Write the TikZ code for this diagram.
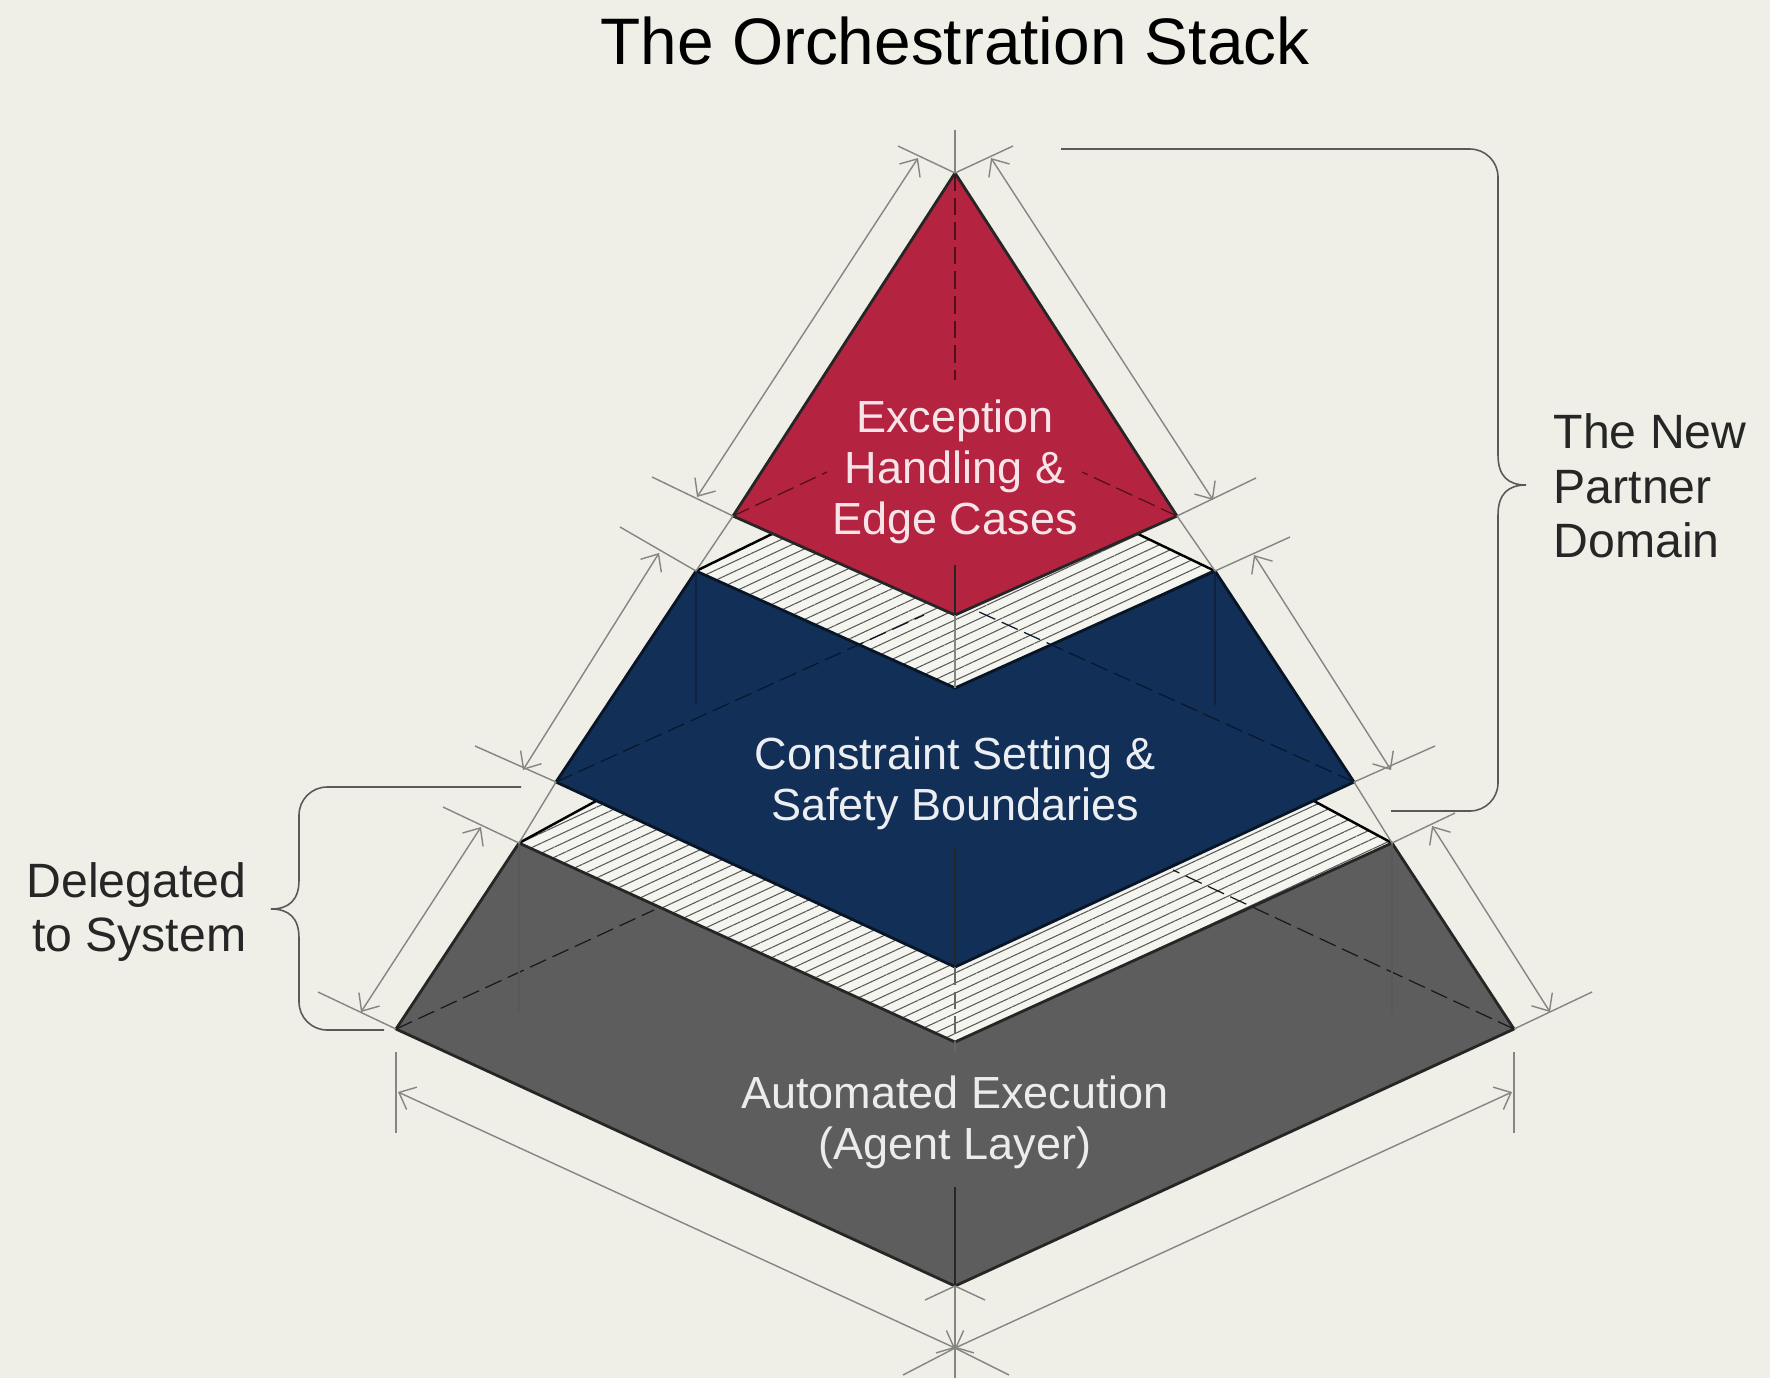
\documentclass[tikz,border=0pt]{standalone}
\usepackage{fontspec}
\setmainfont{Liberation Sans}
\usetikzlibrary{arrows.meta,patterns.meta}
\definecolor{paper}{HTML}{EFEFE8}
\definecolor{hatchpaper}{HTML}{F5F5F0}
\definecolor{crimson}{HTML}{B4233F}
\definecolor{navy}{HTML}{112F57}
\definecolor{slate}{HTML}{5C5D5C}
\definecolor{dimgrey}{HTML}{858682}
\tikzset{
  layer/.style={draw=black!85,line width=.8pt,line join=round,fill=#1},
  hatched/.style={pattern={Lines[angle=25,distance=2.6pt,line width=.3pt]},pattern color=black!65},
  dimline/.style={draw=dimgrey,line width=.4pt},
  dimarrow/.style={dimline,{Straight Barb[length=4pt,width=7pt]}-{Straight Barb[length=4pt,width=7pt]}},
  hidden/.style={draw=black!90,line width=.35pt,dash pattern=on 5pt off 2pt},
  brace/.style={draw=black!65,line width=.45pt,rounded corners=8pt},
  layertext/.style={align=center,font=\fontsize{12.8}{14.5}\selectfont},
  sidetext/.style={font=\fontsize{13.7}{15.5}\selectfont,text=black!85}
}
\begin{document}
\begin{tikzpicture}[x=.01cm,y=-.01cm]
      \useasboundingbox (0,0) rectangle (1770,1378);
      \fill[paper] (0,0) rectangle (1770,1378);
      \path
        (955,173) coordinate (redtop)
        (733,516) coordinate (redleft)
        (1177,516) coordinate (redright)
        (955,615) coordinate (redbottom)
        (696,571) coordinate (navytl)
        (955,688) coordinate (navynotch)
        (1215,571) coordinate (navytr)
        (1354,782) coordinate (navyright)
        (955,967) coordinate (navybottom)
        (556,782) coordinate (navyleft)
        (519,843) coordinate (greytl)
        (955,1042) coordinate (greynotch)
        (1392,843) coordinate (greytr)
        (1514,1029) coordinate (greyright)
        (955,1286) coordinate (greybottom)
        (396,1029) coordinate (greyleft)
        (772,534) coordinate (hatchupl)
        (1138,534) coordinate (hatchupr)
        (596,801) coordinate (hatchlowl)
        (1314,801) coordinate (hatchlowr);
      \fill[hatchpaper] (navytl) -- (hatchupl) -- (redbottom) -- (hatchupr) -- (navytr) -- (navynotch) -- cycle;
      \fill[hatched] (navytl) -- (hatchupl) -- (redbottom) -- (hatchupr) -- (navytr) -- (navynotch) -- cycle;
      \fill[hatchpaper] (greytl) -- (hatchlowl) -- (navybottom) -- (hatchlowr) -- (greytr) -- (greynotch) -- cycle;
      \fill[hatched] (greytl) -- (hatchlowl) -- (navybottom) -- (hatchlowr) -- (greytr) -- (greynotch) -- cycle;
      \draw[black,line width=.7pt] (navytl) to (hatchupl);
      \draw[black,line width=.7pt] (hatchupr) to (navytr);
      \draw[black,line width=.7pt] (greytl) to (hatchlowl);
      \draw[black,line width=.7pt] (hatchlowr) to (greytr);
      \draw[layer=slate] (greytl) -- (greynotch) -- (greytr) -- (greyright) -- (greybottom) -- (greyleft) -- cycle;
      \draw[layer=navy,draw=black!55!navy] (navytl) -- (navynotch) -- (navytr) -- (navyright) -- (navybottom) -- (navyleft) -- cycle;
      \draw[layer=crimson] (redtop) -- (redright) -- (redbottom) -- (redleft) -- cycle;
      \path
        (955,130) coordinate (axistop)
        (955,380) coordinate (axisred)
        (955,565) coordinate (axisredlow)
        (955,847) coordinate (axisnavy)
        (955,1053) coordinate (axisgrey)
        (955,1187) coordinate (axisgreylow)
        (955,1378) coordinate (axisend)
        (827,472) coordinate (redhidl)
        (1082,472) coordinate (redhidr)
        (924,615) coordinate (navyhidl)
        (977,611) coordinate (navyhidr)
        (654,910) coordinate (greyhidl)
        (1173,870) coordinate (greyhidr)
        (696,705) coordinate (navydropl)
        (1215,705) coordinate (navydropr)
        (519,1013) coordinate (greydropl)
        (1392,1013) coordinate (greydropr);
      \begin{scope}[hidden]
        \draw[crimson!45!black] (redtop) to (axisred);
        \draw[crimson!45!black] (redleft) to (redhidl);
        \draw[crimson!45!black] (redright) to (redhidr);
        \draw[black!50!navy] (navyleft) to (navyhidl);
        \draw[black!50!navy] (navyright) to (navyhidr);
        \draw (greyleft) to (greyhidl);
        \draw (greyright) to (greyhidr);
        \draw[black!60] (navybottom) to (axisgrey);
      \end{scope}
      \begin{scope}[black!85,line width=.35pt]
        \draw (axisredlow) to (redbottom);
        \draw (axisnavy) to (navybottom);
        \draw (axisgreylow) to (greybottom);
        \draw[black!25!navy] (navytl) to (navydropl);
        \draw[black!25!navy] (navytr) to (navydropr);
        \draw[black!65] (greytl) to (greydropl);
        \draw[black!65] (greytr) to (greydropr);
      \end{scope}
      \path
        (898,146) coordinate (tickapexl)
        (1013,146) coordinate (tickapexr)
        (652,477) coordinate (tickredl)
        (1256,478) coordinate (tickredr)
        (620,527) coordinate (ticktll)
        (1290,537) coordinate (ticktrr)
        (475,746) coordinate (ticknavyl)
        (1435,746) coordinate (ticknavyr)
        (443,807) coordinate (tickgreytl)
        (1455,813) coordinate (tickgreytr)
        (318,992) coordinate (tickgreyl)
        (1592,992) coordinate (tickgreyr)
        (396,1052) coordinate (dropleft)
        (396,1133) coordinate (dropleftend)
        (1514,1052) coordinate (dropright)
        (1514,1133) coordinate (droprightend)
        (925,1300) coordinate (tickbotl)
        (985,1300) coordinate (tickbotr)
        (903,1375) coordinate (crossl)
        (1009,1375) coordinate (crossr)
        (955,1348) coordinate (crossmid)
        (398,1092) coordinate (arrowbotl)
        (1512,1092) coordinate (arrowbotr)
        (918,158) coordinate (arrowa)
        (697,497) coordinate (arrowb)
        (991,158) coordinate (arrowc)
        (1213,500) coordinate (arrowd)
        (659,553) coordinate (arrowe)
        (523,770) coordinate (arrowf)
        (1254,555) coordinate (arrowg)
        (1391,770) coordinate (arrowh)
        (481,827) coordinate (arrowi)
        (361,1012) coordinate (arrowj)
        (1432,826) coordinate (arrowk)
        (1550,1012) coordinate (arrowl);
      \begin{scope}[dimline]
        \draw (axistop) to (redtop);
        \draw (redbottom) to (navynotch);
        \draw (greybottom) to (axisend);
        \draw (redtop) to (tickapexl);
        \draw (redtop) to (tickapexr);
        \draw (redleft) to (tickredl);
        \draw (redright) to (tickredr);
        \draw (navytl) to (ticktll);
        \draw (navytr) to (ticktrr);
        \draw (navyleft) to (ticknavyl);
        \draw (navyright) to (ticknavyr);
        \draw (greytl) to (tickgreytl);
        \draw (greytr) to (tickgreytr);
        \draw (greyleft) to (tickgreyl);
        \draw (greyright) to (tickgreyr);
        \draw (redleft) to (navytl);
        \draw (redright) to (navytr);
        \draw (navyleft) to (greytl);
        \draw (navyright) to (greytr);
        \draw (dropleft) to (dropleftend);
        \draw (dropright) to (droprightend);
        \draw (greybottom) to (tickbotl);
        \draw (greybottom) to (tickbotr);
        \draw (crossmid) to (crossl);
        \draw (crossmid) to (crossr);
      \end{scope}
      \begin{scope}[dimarrow]
        \draw (arrowa) to (arrowb);
        \draw (arrowc) to (arrowd);
        \draw (arrowe) to (arrowf);
        \draw (arrowg) to (arrowh);
        \draw (arrowi) to (arrowj);
        \draw (arrowk) to (arrowl);
        \draw (arrowbotl) to (crossmid);
        \draw (arrowbotr) to (crossmid);
      \end{scope}
      \node (title) at (955,41) {\fontsize{18.7}{22}\selectfont The Orchestration Stack};
      \node[layertext,text=crimson!12!white] (exception) at (955,472) {Exception\\Handling \&\\Edge Cases};
      \node[layertext,text=navy!8!white] (constraint) at (955,783) {Constraint Setting \&\\Safety Boundaries};
      \node[layertext,text=slate!12!white] (automated) at (955,1122) {Automated Execution\\(Agent Layer)};
      \node[sidetext,align=left,anchor=west,inner sep=0pt] (partner) at (1553,486) {The New\\Partner\\Domain};
      \node[sidetext,align=right,anchor=east,inner sep=0pt] (delegated) at (247,912) {Delegated\\to System};
      \draw[brace] (1061,149) -- (1498,149) -- (1498,455);
      \draw[brace,rounded corners=0pt] (1498,455) .. controls (1498,476) and (1508,485) .. (1526,485) .. controls (1508,485) and (1498,494) .. (1498,515);
      \draw[brace] (1498,515) -- (1498,811) -- (1391,811);
      \draw[brace] (521,787) -- (299,787) -- (299,880);
      \draw[brace,rounded corners=0pt] (299,880) .. controls (299,900) and (289,909) .. (271,909) .. controls (289,909) and (299,918) .. (299,938);
      \draw[brace] (299,938) -- (299,1030) -- (384,1030);
    \end{tikzpicture}
\end{document}
